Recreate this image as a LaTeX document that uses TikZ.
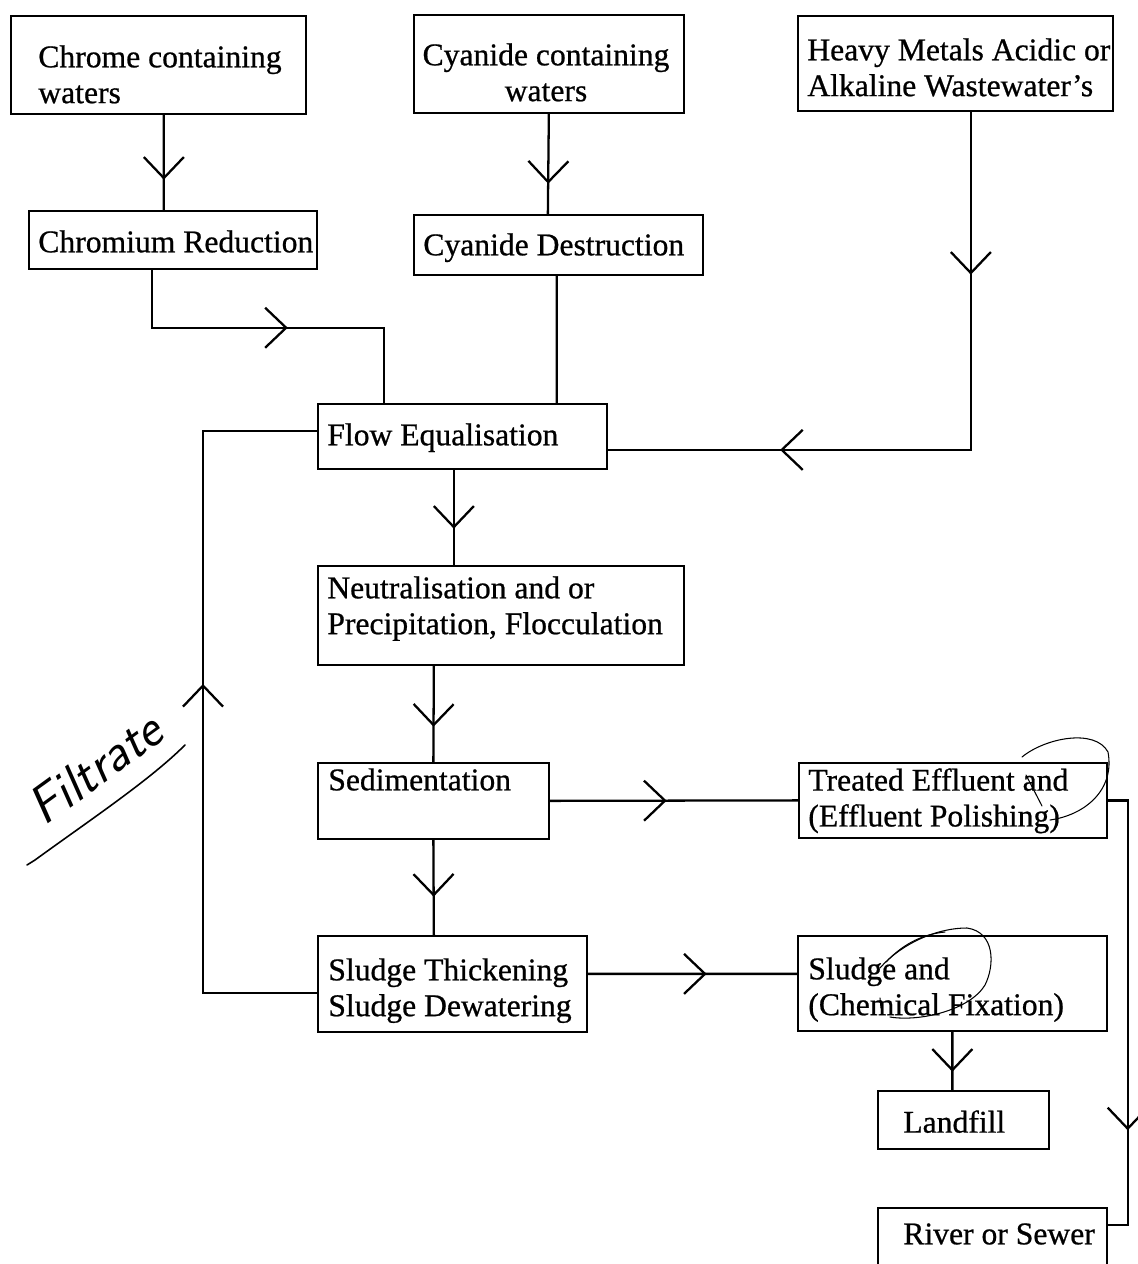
\documentclass[tikz,border=0pt]{standalone}
\usepackage{fontspec}
\setmainfont{Liberation Serif}[FakeBold=0.7]
\usetikzlibrary{arrows.meta, decorations.markings}

\begin{document}
\begin{tikzpicture}[x=0.02cm, y=-0.02cm,
    box/.style={draw, line width=1pt, anchor=north west, inner sep=0pt},
    txt/.style={anchor=north west, inner sep=0pt, align=left, font=\fontsize{18}{20.4}\selectfont},
    flow/.style={line width=1.3pt},
    arr/.style={postaction={decorate, decoration={markings, mark=at position #1 with {\arrow{>}}}}},
    pen/.style={line width=0.6pt, line cap=round},
    >={Straight Barb[length=4.2mm, width=8mm]}]
    \useasboundingbox (0,0) rectangle (1138,1264);

    % boxes
    \node[box, minimum width=5.90cm, minimum height=1.96cm] (chrome) at (10,15) {};
    \node[box, minimum width=5.76cm, minimum height=1.16cm] (chromred) at (28,210) {};
    \node[box, minimum width=5.40cm, minimum height=1.96cm] (cyanide) at (413,14) {};
    \node[box, minimum width=5.78cm, minimum height=1.20cm] (cyandest) at (413,214) {};
    \node[box, minimum width=6.30cm, minimum height=1.90cm] (heavy) at (797,15) {};
    \node[box, minimum width=5.78cm, minimum height=1.30cm] (floweq) at (317,403) {};
    \node[box, minimum width=7.32cm, minimum height=1.98cm] (neutral) at (317,565) {};
    \node[box, minimum width=4.62cm, minimum height=1.52cm] (sedim) at (317,762) {};
    \node[box, minimum width=6.16cm, minimum height=1.50cm] (treated) at (798,762) {};
    \node[box, minimum width=5.38cm, minimum height=1.92cm] (thicken) at (317,935) {};
    \node[box, minimum width=6.18cm, minimum height=1.90cm] (fixation) at (797,935) {};
    \node[box, minimum width=3.42cm, minimum height=1.16cm] (landfill) at (877,1090) {};
    \node[box, minimum width=4.58cm, minimum height=1.40cm] (river) at (877,1207) {};

    % texts
    \node[txt] (chrome-t) at (38,45) {Chrome containing\\waters};
    \node[txt] (chromred-t) at (38,230) {Chromium Reduction};
    \node[txt, anchor=north, align=center] (cyanide-t) at (546,43) {Cyanide containing\\waters};
    \node[txt] (cyandest-t) at (423,233) {Cyanide Destruction};
    \node[txt] (heavy-t) at (807,38) {Heavy Metals Acidic or\\Alkaline Wastewater's};
    \node[txt] (floweq-t) at (327,423) {Flow Equalisation};
    \node[txt] (neutral-t) at (327,576) {Neutralisation and or\\Precipitation, Flocculation};
    \node[txt] (sedim-t) at (328,768) {Sedimentation};
    \node[txt] (treated-t) at (808,768) {Treated Effluent and\\(Effluent Polishing)};
    \node[txt] (thicken-t) at (328,958) {Sludge Thickening\\Sludge Dewatering};
    \node[txt] (fixation-t) at (808,957) {Sludge and\\(Chemical Fixation)};
    \node[txt] (landfill-t) at (903,1110) {Landfill};
    \node[txt] (river-t) at (903,1223) {River or Sewer};

    % connectors
    \draw[flow, arr=1.30cm] ([xshift=0.11cm]chrome.south) -- ([xshift=-0.18cm]chromred.north);
    \draw[flow, arr=1.40cm] (cyanide.south) -- ([xshift=-0.21cm]cyandest.north);
    \draw[flow, arr=3.88cm] ([xshift=-0.42cm]chromred.south) -- ++(0,58) -| ([xshift=-1.57cm]floweq.north);
    \draw[flow] ([xshift=-0.03cm]cyandest.south) -- ([xshift=1.89cm]floweq.north);
    \draw[flow, arr=3.26cm, arr=10.58cm] ([xshift=0.31cm]heavy.south) |- ([yshift=-0.27cm]floweq.east);
    \draw[flow, arr=1.18cm] ([xshift=-0.17cm]floweq.south) -- ([xshift=-0.94cm]neutral.north);
    \draw[flow, arr=1.22cm] ([xshift=-1.34cm]neutral.south) -- (sedim.north);
    \draw[flow, arr=2.34cm] (sedim.east) -- (treated.west);
    \draw[flow, arr=1.14cm] (sedim.south) -- ([xshift=-0.37cm]thicken.north);
    \draw[flow, arr=2.38cm] ([yshift=0.2cm]thicken.east) -- ([yshift=0.19cm]fixation.west);
    \draw[flow, arr=8.46cm] ([yshift=-0.18cm]thicken.west) -- ++(-114,0) |- ([yshift=0.11cm]floweq.west);
    \draw[flow, arr=0.80cm] (fixation.south) -- ([xshift=-0.22cm]landfill.north);
    \draw[flow, arr=7.00cm] (treated.east) -- ++(20,0) |- ([yshift=0.36cm]river.east);

    % handwritten note
    \node[font=\fontsize{30}{30}\selectfont\sffamily\itshape, rotate=36] (filtrate) at (95,768) {Filtrate};
    \draw[pen, line width=0.9pt] (27,865) -- (35,860) .. controls (90,820) and (150,780) .. (185,745);
    \draw[pen] (1022,757) .. controls (1045,738) and (1095,728) .. (1108,752)
        .. controls (1115,790) and (1085,815) .. (1050,820);
    \draw[pen] (1026,775) -- (1042,806);
    \draw[pen] (880,968) .. controls (900,945) and (935,928) .. (967,928)
        .. controls (995,932) and (995,965) .. (985,985)
        .. controls (970,1010) and (920,1022) .. (890,1017);
    \draw[pen] (886,962) .. controls (905,942) and (925,934) .. (945,932);
    \draw[pen] (880,998) -- (881,1008);
\end{tikzpicture}
\end{document}
